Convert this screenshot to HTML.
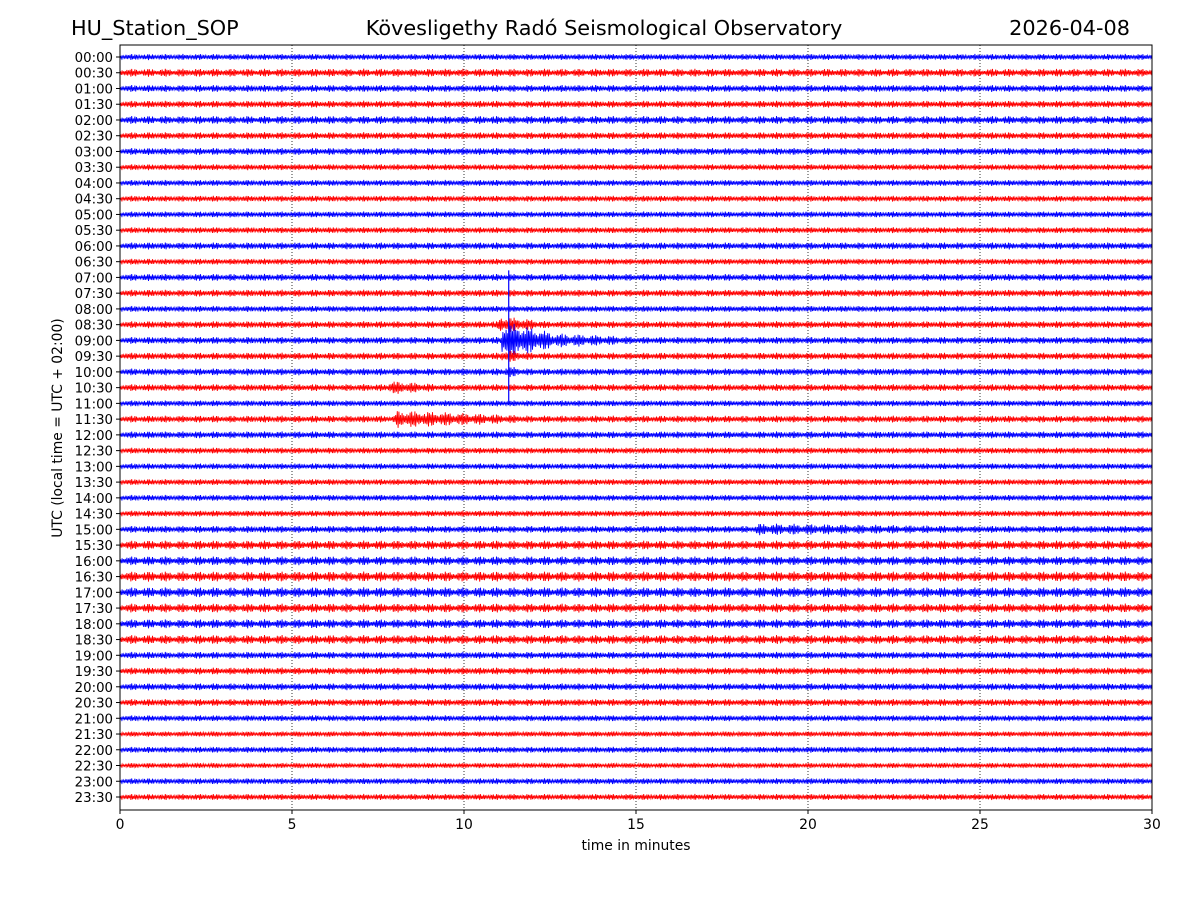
<!DOCTYPE html>
<html><head><meta charset="utf-8"><style>
body{margin:0;background:#fff;}
svg text{font-family:"DejaVu Sans","Liberation Sans",sans-serif;}
</style></head><body>
<svg id="chart" width="1200" height="900" xmlns="http://www.w3.org/2000/svg">
<rect width="1200" height="900" fill="#fff"/>
<text x="71" y="35" font-size="20.8">HU_Station_SOP</text>
<text x="604" y="35" font-size="20.8" text-anchor="middle">Kövesligethy Radó Seismological Observatory</text>
<text x="1130" y="35" font-size="20.8" text-anchor="end">2026-04-08</text>
<g id="grid"></g><g id="traces"></g><g id="axes"></g>
<text x="636" y="850" font-size="13.9" text-anchor="middle">time in minutes</text>
<text transform="translate(62,428) rotate(-90)" font-size="13.9" text-anchor="middle">UTC (local time = UTC + 02:00)</text>
</svg>
<script>
const rowLabels=["00:00","00:30","01:00","01:30","02:00","02:30","03:00","03:30","04:00","04:30","05:00","05:30","06:00","06:30","07:00","07:30","08:00","08:30","09:00","09:30","10:00","10:30","11:00","11:30","12:00","12:30","13:00","13:30","14:00","14:30","15:00","15:30","16:00","16:30","17:00","17:30","18:00","18:30","19:00","19:30","20:00","20:30","21:00","21:30","22:00","22:30","23:00","23:30"];
const rowAmps=[3,4,3.5,3.5,4,3.5,3.5,3,3,3,3,3,3.5,3,3.5,3.5,3,3.5,3.5,3.5,3.5,3.5,3,3.5,3.5,3,3,3,3,3,3.5,4.5,4.5,5,5,4.5,4.5,4.5,3.5,3.5,3.5,3.5,3,2.5,3,2.5,3,3];
const eventRows=[17,18,18,21,23,30,20,19];
const eventStart=[11.0,11.1,12.2,7.8,8.0,18.5,11.2,11.1];
const eventEnd=[12.6,12.8,15.8,9.8,12.5,28.5,12.2,12.3];
const eventAmps=[9,20,8,7,9,6,6,7];
const spikeRow=18, spikeMin=11.3, spikeUp=70, spikeDown=64;
const xTicks=[0,5,10,15,20,25,30];
const ns="http://www.w3.org/2000/svg";
const X0=120,X1=1152,Y0=45,Y1=810;
const xs=m=>X0+(X1-X0)*m/30;
const ys=i=>57+i*(797-57)/47;
function mk(t,a,p){const e=document.createElementNS(ns,t);for(const k in a)e.setAttribute(k,a[k]);p.appendChild(e);return e;}
const grid=document.getElementById('grid');
xTicks.slice(1,-1).forEach(t=>{
 const l=mk('line',{x1:xs(t),x2:xs(t),y1:Y0,y2:Y1,stroke:'#000','stroke-width':0.8,'stroke-dasharray':'1,2'},grid);
 
 
});
const tr=document.getElementById('traces');
rowLabels.forEach((lab,i)=>{
 const col=i%2?'#ff0000':'#0000ff';
 let d='';
 let n=0;
 for(let px=X0+0.5;px<X1;px+=0.8){
  const m=(px-X0)/(X1-X0)*30;
  let a=rowAmps[i];
  eventRows.forEach((r,k)=>{if(r===i&&m>=eventStart[k]&&m<=eventEnd[k]){const f=1-(m-eventStart[k])/(eventEnd[k]-eventStart[k]);a=Math.max(a,eventAmps[k]*(0.3+0.7*f));}});
  const s=(n%2?1:-1)*(0.35+0.65*Math.abs(Math.sin(px*0.73)*Math.cos(px*0.19)));
  n++;
  d+=(d?'L':'M')+px.toFixed(1)+','+(ys(i)+s*a).toFixed(1);
 }
 const p=mk('path',{d:d,fill:'none',stroke:col,'stroke-width':0.9},tr);
 
 
});
const sp=mk('line',{x1:xs(spikeMin),x2:xs(spikeMin),y1:ys(spikeRow)-spikeUp,y2:ys(spikeRow)+spikeDown,stroke:'#0000ff','stroke-width':1.2},tr);


const ax=document.getElementById('axes');
const fr=mk('rect',{x:X0,y:Y0,width:X1-X0,height:Y1-Y0,fill:'none',stroke:'#000','stroke-width':1},ax);


xTicks.forEach(t=>{
 mk('line',{x1:xs(t),x2:xs(t),y1:Y1,y2:Y1+4,stroke:'#000'},ax);
 const tx=mk('text',{x:xs(t),y:Y1+19,'font-size':13.9,'text-anchor':'middle'},ax);
 tx.textContent=t;
 
 
});
rowLabels.forEach((lab,i)=>{
 mk('line',{x1:X0-4,x2:X0,y1:ys(i),y2:ys(i),stroke:'#000'},ax);
 const tx=mk('text',{x:X0-7,y:ys(i)+5,'font-size':13.3,'text-anchor':'end'},ax);
 tx.textContent=lab;
 
 
});
</script>
</body></html>
